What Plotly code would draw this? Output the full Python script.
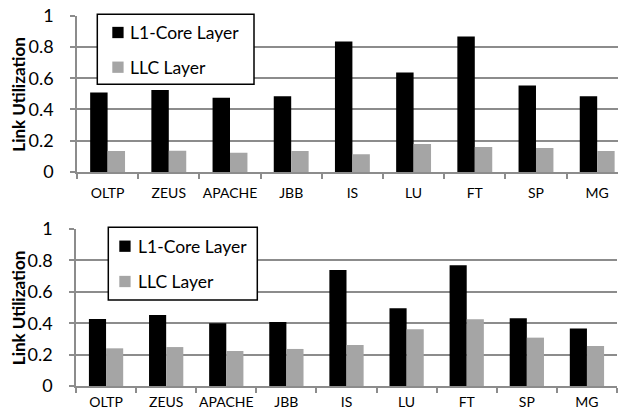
import plotly.graph_objects as go

# Benchmarks on the x axis
categories = ["OLTP", "ZEUS", "APACHE", "JBB", "IS", "LU", "FT", "SP", "MG"]

# Link utilization, upper panel
top_l1core = [0.509, 0.524, 0.475, 0.484, 0.835, 0.637, 0.867, 0.554, 0.484]
top_llc = [0.134, 0.136, 0.123, 0.134, 0.113, 0.179, 0.160, 0.153, 0.134]

# Link utilization, lower panel
bot_l1core = [0.427, 0.452, 0.399, 0.408, 0.739, 0.495, 0.769, 0.431, 0.367]
bot_llc = [0.240, 0.248, 0.223, 0.236, 0.261, 0.361, 0.425, 0.308, 0.255]

series_names = ["L1-Core Layer", "LLC Layer"]
y_ticks = [0, 0.2, 0.4, 0.6, 0.8, 1]
y_ticktext = ["0", "0.2", "0.4", "0.6", "0.8", "1"]

W, H = 618, 418
BLACK = "#000000"
GRAY = "#a5a5a5"
GRID = "#8c8c8c"
FONT = "Lato"
colors = [BLACK, GRAY]


def px(x):
    return x / W


def py(y):
    return 1 - y / H


fig = go.Figure()

for xa, ya, series in (("x", "y", (top_l1core, top_llc)), ("x2", "y2", (bot_l1core, bot_llc))):
    for name, vals, col in zip(series_names, series, colors):
        fig.add_trace(go.Bar(x=categories, y=vals, name=name, marker_color=col,
                             marker_line_width=0, xaxis=xa, yaxis=ya, showlegend=False))


def xaxis(domain, rng, anchor, standoff):
    return dict(domain=domain, range=rng, anchor=anchor, type="category",
                showline=True, linecolor=GRID, linewidth=1.5,
                ticks="outside", tickson="boundaries", ticklen=5, tickcolor=GRID, tickwidth=1.5,
                showgrid=False, ticklabelstandoff=standoff, tickangle=0, automargin=False,
                tickfont=dict(family=FONT, size=14, color="black"),
                fixedrange=True)


def yaxis(domain, anchor):
    return dict(domain=domain, range=[0, 1], anchor=anchor,
                tickvals=y_ticks, ticktext=y_ticktext,
                showline=True, linecolor=GRID, linewidth=1.5,
                ticks="outside", ticklen=5, tickcolor=GRID, tickwidth=1.5,
                showgrid=True, gridcolor=GRID, gridwidth=1.5,
                zeroline=False, ticklabelstandoff=13, automargin=False,
                tickfont=dict(family=FONT, size=18, color="black"), fixedrange=True)


fig.update_layout(
    width=W, height=H,
    margin=dict(l=0, r=0, t=0, b=0, autoexpand=False),
    paper_bgcolor="white", plot_bgcolor="white",
    barmode="group", bargap=0.43, bargroupgap=0,
    xaxis=xaxis([px(77), 1.0], [-0.5, 8.34], "y", 7),
    yaxis=yaxis([py(172), py(15.7)], "x"),
    xaxis2=xaxis([px(76), px(617)], [-0.5, 8.5], "y2", 2),
    yaxis2=yaxis([py(386), py(229)], "x2"),
    showlegend=False,
)

# Rotated y-axis titles
for yc in (94, 307.5):
    fig.add_annotation(text="<b>Link Utilization</b>", x=px(18.7), y=py(yc),
                       xref="paper", yref="paper", textangle=-90, showarrow=False,
                       font=dict(family=FONT, size=17, color="black"),
                       xanchor="center", yanchor="middle")

# Boxed legends inside each panel
legend_boxes = [
    # box (x0, x1, y0, y1), swatch x0, text x, row centers
    ((97.3, 254, 14.3, 84.3), 112.3, 128.3, (32.5, 67.2)),
    ((108.3, 257.3, 227.3, 300), 119.3, 136, (246.2, 281.5)),
]
SW = 11.3
for (bx0, bx1, by0, by1), sx, tx, rows in legend_boxes:
    fig.add_shape(type="rect", xref="paper", yref="paper",
                  x0=px(bx0), x1=px(bx1), y0=py(by1), y1=py(by0),
                  fillcolor="white", line=dict(color="black", width=1.5), layer="above")
    for name, col, yc in zip(series_names, colors, rows):
        fig.add_shape(type="rect", xref="paper", yref="paper",
                      x0=px(sx), x1=px(sx + SW), y0=py(yc + SW / 2), y1=py(yc - SW / 2),
                      fillcolor=col, line=dict(width=0), layer="above")
        fig.add_annotation(text=name, x=px(tx), y=py(yc), xref="paper", yref="paper",
                           showarrow=False, xanchor="left", yanchor="middle",
                           font=dict(family=FONT, size=17.5, color="black"))

fig.write_html("out.html")
